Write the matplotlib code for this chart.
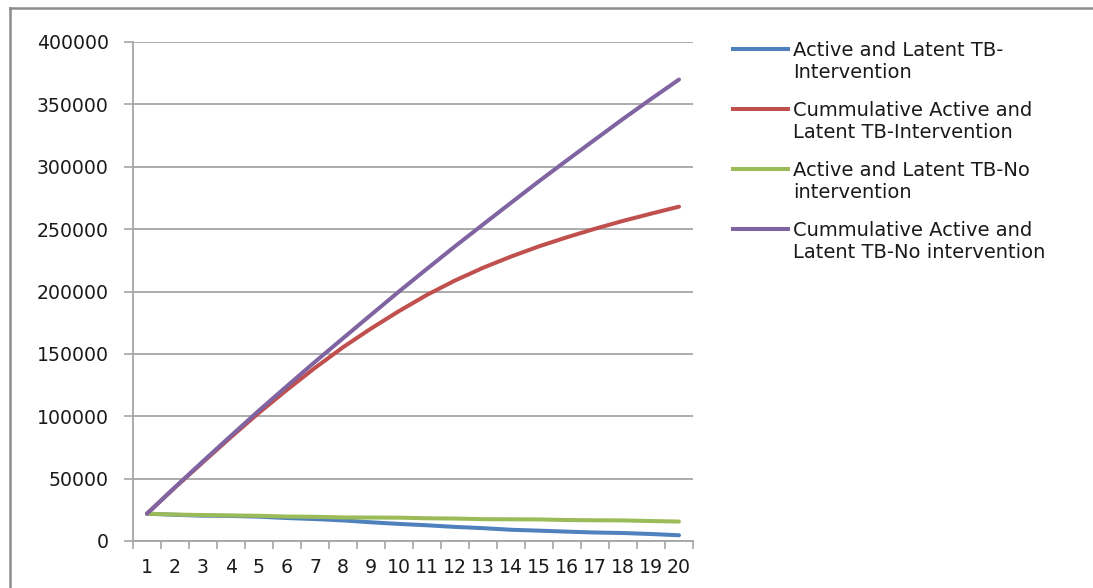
import matplotlib
matplotlib.use("Agg")
import matplotlib.pyplot as plt
from matplotlib.lines import Line2D

# Years of the projection
years = list(range(1, 21))

# Yearly counts
active_latent_intervention = [21900, 21000, 20300, 20100, 19500, 18400, 17600, 16500, 15000, 13700,
                              12600, 11300, 10300, 9000, 8300, 7500, 6800, 6400, 5600, 4600]
active_latent_no_intervention = [21900, 21200, 20800, 20500, 20200, 19600, 19400, 18900, 18800, 18700,
                                 18200, 18000, 17500, 17400, 17300, 16800, 16600, 16500, 16000, 15600]

# Running totals
cumulative_intervention = [21900, 42900, 63200, 83300, 102800, 121200, 138800, 155300, 170300, 184300,
                           197300, 208800, 219000, 228000, 236200, 243500, 250300, 256600, 262400, 268000]
cumulative_no_intervention = [21900, 43100, 63900, 84400, 104600, 124200, 143600, 162500, 181300, 200000,
                              218200, 236200, 253700, 271100, 288400, 305200, 321800, 338300, 354300, 369900]

series_labels = [
    ("Active and Latent TB-", "Intervention"),
    ("Cummulative Active and", "Latent TB-Intervention"),
    ("Active and Latent TB-No", "intervention"),
    ("Cummulative Active and", "Latent TB-No intervention"),
]
series_colors = ["#4F81BD", "#C0504D", "#9BBB59", "#8064A2"]
y_ticks = list(range(0, 400001, 50000))

W, H = 1093, 588
DPI = 100
plt.rcParams["font.family"] = ["DejaVu Sans"]
fig = plt.figure(figsize=(W / DPI, H / DPI), dpi=DPI)
fig.patch.set_facecolor("white")


def fx(px):
    return px / W


def fy(py):
    return 1 - py / H


left, right, top, bottom = 133, 693, 42, 541
ax = fig.add_axes([fx(left), fy(bottom), fx(right - left), (bottom - top) / H])

all_series = [active_latent_intervention, cumulative_intervention,
              active_latent_no_intervention, cumulative_no_intervention]
for values, color in zip(all_series, series_colors):
    ax.plot(years, values, color=color, lw=2.9, solid_capstyle="round", zorder=3)

grid_color = "#A6A6A6"
text_color = "#1a1a1a"
tick_font = 13.6
ax.set_xlim(0.5, 20.5)
ax.set_ylim(0, 400000)
ax.set_yticks(y_ticks)
ax.set_yticklabels([str(v) for v in y_ticks], fontsize=tick_font, color=text_color)
ax.yaxis.grid(True, color=grid_color, lw=1.3)
ax.set_axisbelow(True)

# category ticks sit between the labels
ax.set_xticks([x + 0.5 for x in range(0, 21)])
ax.set_xticklabels([])
ax.set_xticks(years, minor=True)
ax.set_xticklabels([str(y) for y in years], minor=True, fontsize=tick_font, color=text_color)
ax.tick_params(axis="x", which="major", length=5.8, width=1.2, color=grid_color, direction="out")
ax.tick_params(axis="x", which="minor", length=0, pad=12)
ax.tick_params(axis="y", length=6.5, width=1.2, color=grid_color, direction="out", pad=10.8)

for side in ["top", "right"]:
    ax.spines[side].set_visible(False)
for side in ["left", "bottom"]:
    ax.spines[side].set_color(grid_color)
    ax.spines[side].set_linewidth(1.3)

# legend
legend_font = 14
entry_y = [49, 109, 169, 229]
for (l1, l2), color, y in zip(series_labels, series_colors, entry_y):
    fig.add_artist(Line2D([fx(733), fx(788)], [fy(y), fy(y)], color=color, lw=2.9,
                          transform=fig.transFigure))
    fig.text(fx(793), fy(y + 1), l1, fontsize=legend_font, va="center", ha="left", color=text_color)
    fig.text(fx(793), fy(y + 24), l2, fontsize=legend_font, va="center", ha="left", color=text_color)

# chart area frame
frame_color = "#8C8C8C"
fig.add_artist(Line2D([fx(10), fx(10)], [fy(8), 0], color=frame_color, lw=1.8,
                      transform=fig.transFigure))
fig.add_artist(Line2D([fx(10), 1], [fy(8), fy(8)], color=frame_color, lw=1.8,
                      transform=fig.transFigure))

fig.savefig("out.png", dpi=DPI, facecolor="white")
